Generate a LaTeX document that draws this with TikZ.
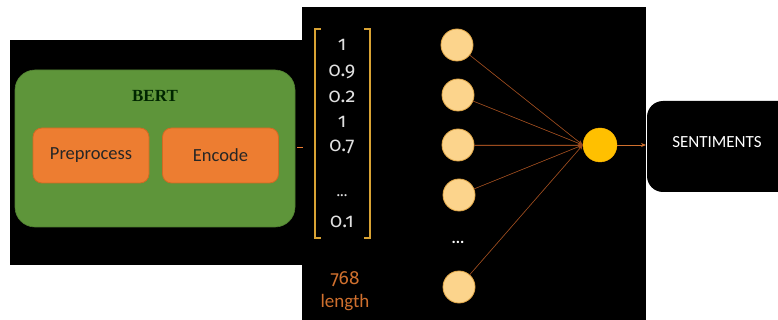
\documentclass[tikz,border=0pt]{standalone}
\usepackage{fontspec}
\setmainfont{Carlito}
\newfontfamily\numfont[Numbers=OldStyle]{Fira Sans}
\newfontfamily\titlefont{Liberation Serif}
\usetikzlibrary{arrows.meta}
\definecolor{panel}{HTML}{000000}
\definecolor{bertgreen}{HTML}{5E953A}
\definecolor{boxorange}{HTML}{ED7D31}
\definecolor{boxedge}{HTML}{D06A22}
\definecolor{bracketgold}{HTML}{D9A334}
\definecolor{wire}{HTML}{9A4A1E}
\definecolor{neuron}{HTML}{FCD48C}
\definecolor{neuronedge}{HTML}{E3A94A}
\definecolor{outneuron}{HTML}{FFC000}
\definecolor{lenorange}{HTML}{D0702E}
\tikzset{
  step box/.style={draw=boxedge, fill=boxorange, rounded corners=9pt, line width=0.8pt,
    minimum width=116pt, minimum height=55pt, font=\fontsize{18.5}{20}\selectfont, text=black!85},
  neuron node/.style={circle, draw=neuronedge, fill=neuron, line width=0.8pt, minimum size=32pt, inner sep=0pt},
  vec entry/.style={text=white!88!black, font=\numfont\fontsize{20}{21}\selectfont},
  wire line/.style={draw=wire, line width=0.6pt},
}
\begin{document}
\begin{tikzpicture}[x=1pt, y=-1pt]
\useasboundingbox (0,0) rectangle (778,320);
\fill[white] (0,0) rectangle (778,320);
% dark panels
\fill[panel] (10,40) rectangle (303,265);
\fill[panel] (302,7) rectangle (646,320);
\fill[panel, rounded corners=16pt] (647,101) rectangle (800,192);
% BERT block
\node[draw=bertgreen!85!black, fill=bertgreen, rounded corners=20pt, line width=0.6pt,
  minimum width=280pt, minimum height=157pt, inner sep=0pt] (bert) at (155,148.5) {};
\node[font=\titlefont\bfseries\fontsize{17}{19}\selectfont, text=black!85!green] (berttitle) at (155,96) {BERT};
\node[step box] (pre) at (91,155.5) {Preprocess};
\node[step box] (enc) at (220.5,155.5) {Encode};
\coordinate (stubA) at (297,147.5);
\coordinate (stubB) at (303,147.5);
\draw[draw=boxorange, line width=1pt] (stubA) -- (stubB);
% embedding vector
\coordinate (bl1) at (321,29);
\coordinate (bl2) at (315,29);
\coordinate (bl3) at (315,238);
\coordinate (bl4) at (321,238);
\coordinate (br1) at (364,29);
\coordinate (br2) at (370,29);
\coordinate (br3) at (370,238);
\coordinate (br4) at (364,238);
\draw[bracketgold, line width=1.3pt] (bl1) -- (bl2) -- (bl3) -- (bl4);
\draw[bracketgold, line width=1.3pt] (br1) -- (br2) -- (br3) -- (br4);
\node[vec entry] (v1) at (342,45) {1};
\node[vec entry] (v2) at (342,72) {0.9};
\node[vec entry] (v3) at (342,97) {0.2};
\node[vec entry] (v4) at (342,122) {1};
\node[vec entry] (v5) at (342,147) {0.7};
\node[vec entry, font=\numfont\fontsize{15}{16}\selectfont] (v6) at (342,196) {...};
\node[vec entry] (v7) at (342,222) {0.1};
\node[text=lenorange, font=\fontsize{19}{23}\selectfont, align=center] (len) at (345,291) {{\numfont 768}\\length};
% network
\node[neuron node] (n1) at (457,45) {};
\node[neuron node] (n2) at (458,95) {};
\node[neuron node] (n3) at (458,145) {};
\node[neuron node] (n4) at (459,195) {};
\node[neuron node] (n5) at (459,287) {};
\node[text=white, font=\bfseries\fontsize{16}{16}\selectfont] (ndots) at (458,242) {...};
\node[circle, draw=outneuron!85!orange, fill=outneuron, minimum size=34pt, inner sep=0pt] (out) at (600,145) {};
\foreach \n in {n1,n2,n3,n4,n5}
  \draw[wire line, -{Stealth[length=5pt,width=4pt]}, draw=wire, fill=lenorange] (\n) -- (out.west);
% output
\node[text=white, font=\fontsize{17}{19}\selectfont] (sent) at (717,142) {SENTIMENTS};
\coordinate (sentin) at (646,145);
\draw[wire line, draw=lenorange, line width=0.9pt, -{Stealth[length=5pt,width=4pt]}] (out) -- (sentin);
\end{tikzpicture}
\end{document}
